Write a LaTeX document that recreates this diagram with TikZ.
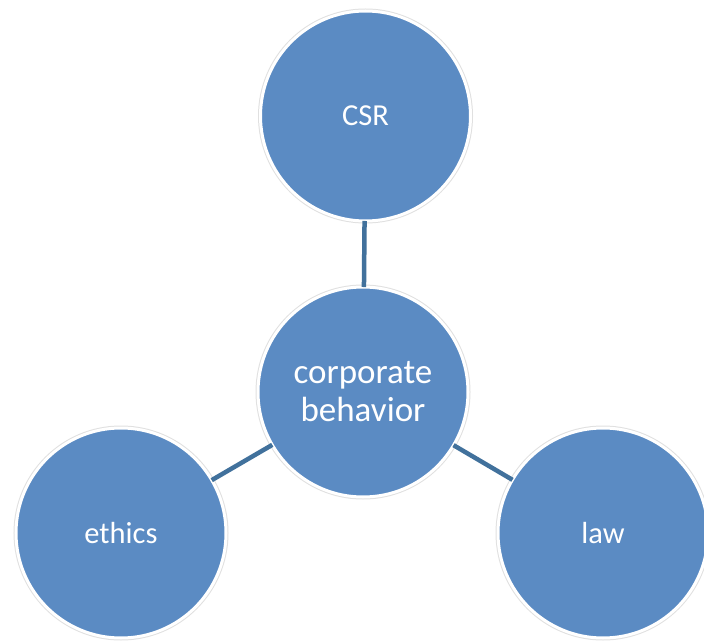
\documentclass[tikz,border=0pt]{standalone}
\usepackage{fontspec}
\setmainfont{Carlito}
\definecolor{circfill}{HTML}{5B8BC3}
\definecolor{linkcol}{HTML}{41719C}
\begin{document}
\begin{tikzpicture}[x=1pt,y=-1pt,
  bubble/.style={circle, minimum size=210pt, inner sep=0pt, outer sep=0pt,
    fill=circfill, draw=white, line width=3pt,
    preaction={draw=black!12, line width=5pt},
    text=white, font=\fontsize{30.5}{36}\selectfont, align=center},
  link/.style={draw=linkcol, line width=4.5pt}]
\fill[white] (0,0) rectangle (704,644);
\useasboundingbox (0,0) rectangle (704,644);
\node[bubble] (csr) at (365.5,116) {CSR};
\node[bubble, font=\fontsize{35}{38}\selectfont] (cb) at (363,392) {corporate\\behavior};
\node[bubble] (eth) at (121,533) {ethics};
\node[bubble] (law) at (603,533) {law};
\draw[link] (cb) -- (csr);
\draw[link] (cb) -- (eth);
\draw[link] (cb) -- (law);
\end{tikzpicture}
\end{document}
